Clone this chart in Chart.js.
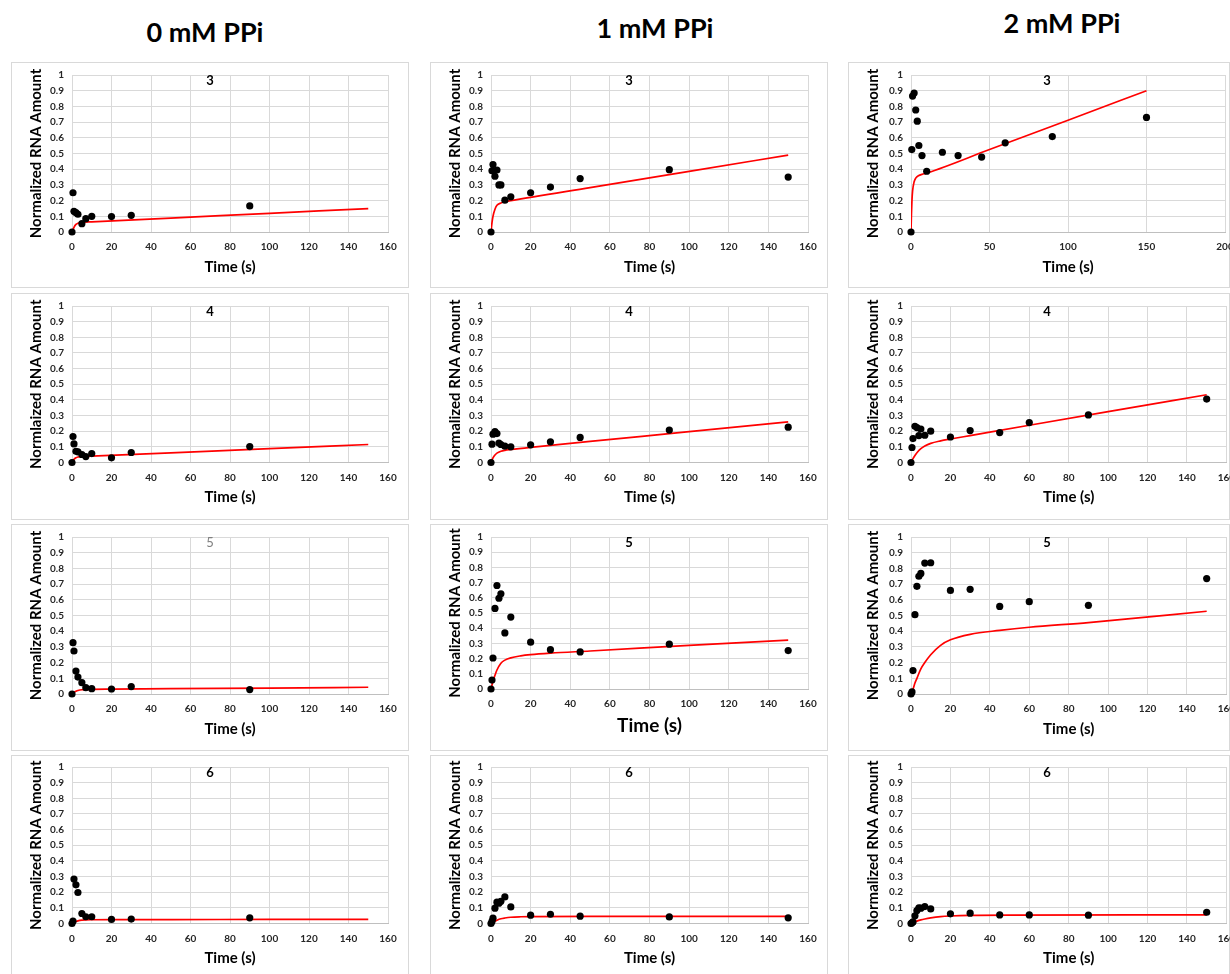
<!DOCTYPE html>
<html>
<head>
<meta charset="utf-8">
<title>Normalized RNA amount vs time</title>
<script src="https://cdn.jsdelivr.net/npm/chart.js@4.4.1/dist/chart.umd.min.js"></script>
<style>
    html, body { margin: 0; padding: 0; }
    body { width: 1230px; height: 974px; overflow: hidden; position: relative; background: #fff; font-family: Lato, "Open Sans", sans-serif; }
    .head { position: absolute; transform: translate(-50%, -50%); font-weight: bold; font-size: 27px; color: #000; white-space: nowrap; }
    canvas { position: absolute; }
</style>
</head>
<body>
<div class="head" style="left:205px; top:31px">0 mM PPi</div>
<div class="head" style="left:655px; top:27px">1 mM PPi</div>
<div class="head" style="left:1062px; top:22px">2 mM PPi</div>
<script>
// time points (s)
const time0 = [0, 0.5, 1, 2, 3, 5, 7, 10, 20, 30, 90]
const time1 = [0, 0.5, 1, 2, 3, 4, 5, 7, 10, 20, 30, 45, 90, 150]
const time2 = [0, 0.5, 1, 2, 3, 4, 5, 7, 10, 20, 30, 45, 60, 90, 150]

// 0 mM PPi
const rna0_3 = [0, 0.25, 0.132, 0.123, 0.113, 0.053, 0.085, 0.1, 0.098, 0.106, 0.166]
const rna0_4 = [0, 0.166, 0.119, 0.072, 0.068, 0.051, 0.038, 0.057, 0.03, 0.064, 0.102]
const rna0_5 = [0, 0.327, 0.274, 0.146, 0.108, 0.072, 0.04, 0.034, 0.032, 0.047, 0.028]
const rna0_6 = [0, 0.015, 0.284, 0.247, 0.198, 0.064, 0.043, 0.043, 0.026, 0.028, 0.036]

// 1 mM PPi
const rna1_3 = [0, 0.39, 0.43, 0.355, 0.395, 0.3, 0.3, 0.203, 0.224, 0.25, 0.286, 0.34, 0.397, 0.35]
const rna1_4 = [0, 0.117, 0.181, 0.198, 0.185, 0.124, 0.115, 0.104, 0.1, 0.113, 0.132, 0.16, 0.207, 0.226]
const rna1_5 = [0, 0.059, 0.204, 0.53, 0.681, 0.597, 0.626, 0.369, 0.473, 0.308, 0.259, 0.244, 0.295, 0.253]
const rna1_6 = [0, 0.013, 0.034, 0.098, 0.136, 0.13, 0.142, 0.17, 0.106, 0.053, 0.059, 0.047, 0.042, 0.036]

// 2 mM PPi
const rna2_3 = [0, 0.525, 0.866, 0.885, 0.777, 0.706, 0.551, 0.487, 0.387, 0.508, 0.487, 0.477, 0.568, 0.608, 0.73]
const rna2_4 = [0, 0.096, 0.153, 0.231, 0.223, 0.172, 0.214, 0.174, 0.2, 0.163, 0.204, 0.191, 0.255, 0.304, 0.405]
const rna2_5 = [0, 0.013, 0.149, 0.505, 0.686, 0.75, 0.768, 0.834, 0.836, 0.66, 0.667, 0.558, 0.588, 0.565, 0.735]
const rna2_6 = [0, 0.004, 0.01, 0.049, 0.083, 0.1, 0.098, 0.108, 0.093, 0.062, 0.066, 0.055, 0.055, 0.053, 0.072]

// fitted curves (red)
const fitT0_3 = [0, 1, 2, 3, 5, 10, 50, 100, 150]
const fitY0_3 = [0, 0.03, 0.048, 0.056, 0.062, 0.065, 0.089, 0.119, 0.149]
const fitT0_4 = [0, 1, 2, 3, 5, 10, 50, 100, 150]
const fitY0_4 = [0, 0.02, 0.03, 0.035, 0.038, 0.041, 0.062, 0.089, 0.115]
const fitT0_5 = [0, 1, 2, 3, 5, 10, 20, 50, 100, 150]
const fitY0_5 = [0, 0.01, 0.017, 0.022, 0.027, 0.03, 0.031, 0.034, 0.038, 0.043]
const fitT0_6 = [0, 1, 2, 3, 5, 10, 20, 50, 100, 150]
const fitY0_6 = [0, 0.008, 0.013, 0.017, 0.021, 0.024, 0.025, 0.025, 0.026, 0.026]

const fitT1_3 = [0, 0.5, 1, 2, 3, 5, 7, 10, 50, 100, 150]
const fitY1_3 = [0, 0.06, 0.1, 0.145, 0.17, 0.185, 0.193, 0.2, 0.283, 0.386, 0.49]
const fitT1_4 = [0, 1, 2, 3, 5, 7, 10, 20, 50, 100, 150]
const fitY1_4 = [0, 0.03, 0.048, 0.06, 0.072, 0.078, 0.083, 0.097, 0.135, 0.197, 0.26]
const fitT1_5 = [0, 1, 2, 3, 5, 7, 10, 15, 20, 30, 50, 100, 150]
const fitY1_5 = [0, 0.05, 0.09, 0.125, 0.17, 0.19, 0.205, 0.218, 0.226, 0.236, 0.25, 0.287, 0.322]
const fitT1_6 = [0, 1, 2, 3, 5, 7, 10, 15, 20, 50, 150]
const fitY1_6 = [0, 0.008, 0.015, 0.021, 0.03, 0.035, 0.04, 0.043, 0.044, 0.045, 0.045]

const fitT2_3 = [0, 0.3, 0.6, 1, 2, 3, 5, 7, 10, 50, 100, 150]
const fitY2_3 = [0, 0.12, 0.2, 0.26, 0.32, 0.343, 0.36, 0.367, 0.375, 0.525, 0.712, 0.9]
const fitT2_4 = [0, 1, 2, 3, 5, 7, 10, 15, 20, 30, 60, 100, 150]
const fitY2_4 = [0, 0.025, 0.045, 0.062, 0.088, 0.105, 0.122, 0.138, 0.15, 0.172, 0.238, 0.325, 0.433]
const fitT2_5 = [0, 1, 2, 3, 5, 7, 10, 15, 20, 30, 45, 60, 90, 150]
const fitY2_5 = [0, 0.03, 0.07, 0.1, 0.16, 0.2, 0.25, 0.31, 0.345, 0.38, 0.405, 0.425, 0.455, 0.527]
const fitT2_6 = [0, 1, 2, 3, 5, 7, 10, 15, 20, 30, 50, 150]
const fitY2_6 = [0, 0.005, 0.01, 0.015, 0.023, 0.029, 0.036, 0.044, 0.048, 0.052, 0.054, 0.055]

// layout of the grid of panels
const cols = [
    { left: 11, width: 398, yw: 61, pw: 316 },
    { left: 430, width: 398, yw: 61, pw: 317 },
    { left: 848, width: 382, yw: 63, pw: 316 }
]
const rows = [
    { top: 62, height: 226, pt: 13, ph: 157 },
    { top: 293, height: 227, pt: 13, ph: 156.5 },
    { top: 524, height: 227, pt: 13, ph: 157 },
    { top: 755, height: 227, pt: 12, ph: 156.5 }
]

const panels = [
    { row: 0, col: 0, label: '3', t: time0, y: rna0_3, ft: fitT0_3, fy: fitY0_3 },
    { row: 0, col: 1, label: '3', t: time1, y: rna1_3, ft: fitT1_3, fy: fitY1_3 },
    { row: 0, col: 2, label: '3', t: time2, y: rna2_3, ft: fitT2_3, fy: fitY2_3, xMax: 200, xStep: 50, pw: 314 },
    { row: 1, col: 0, label: '4', t: time0, y: rna0_4, ft: fitT0_4, fy: fitY0_4, yTitle: 'Normlaized RNA Amount' },
    { row: 1, col: 1, label: '4', t: time1, y: rna1_4, ft: fitT1_4, fy: fitY1_4 },
    { row: 1, col: 2, label: '4', t: time2, y: rna2_4, ft: fitT2_4, fy: fitY2_4 },
    { row: 2, col: 0, label: '5', t: time0, y: rna0_5, ft: fitT0_5, fy: fitY0_5, labelColor: '#7f7f7f', labelWeight: 'normal' },
    { row: 2, col: 1, label: '5', t: time1, y: rna1_5, ft: fitT1_5, fy: fitY1_5, ph: 152, titleSize: 19, titleGap: 37 },
    { row: 2, col: 2, label: '5', t: time2, y: rna2_5, ft: fitT2_5, fy: fitY2_5 },
    { row: 3, col: 0, label: '6', t: time0, y: rna0_6, ft: fitT0_6, fy: fitY0_6 },
    { row: 3, col: 1, label: '6', t: time1, y: rna1_6, ft: fitT1_6, fy: fitY1_6 },
    { row: 3, col: 2, label: '6', t: time2, y: rna2_6, ft: fitT2_6, fy: fitY2_6 }
]

const fontFamily = 'Lato, "Open Sans", sans-serif'
const gridColor = '#d9d9d9'
const tickColor = '#262626'

// white background and light frame round each chart
const frame = {
    id: 'frame',
    beforeDraw(chart) {
        const c = chart.ctx
        c.save()
        c.fillStyle = '#fff'
        c.fillRect(0, 0, chart.width, chart.height)
        c.strokeStyle = '#d9d9d9'
        c.lineWidth = 1
        c.strokeRect(0.5, 0.5, chart.width - 1, chart.height - 1)
        c.restore()
    }
}

// small number on top of each plot
const panelLabel = {
    id: 'panelLabel',
    afterDraw(chart, args, opts) {
        const c = chart.ctx
        c.save()
        c.font = opts.weight + ' 13px ' + fontFamily
        c.fillStyle = opts.color
        c.textAlign = 'center'
        c.textBaseline = 'middle'
        c.fillText(opts.text, 199, chart.chartArea.top + 6)
        c.restore()
    }
}

function drawPanel(p) {
    let col = cols[p.col]
    let row = rows[p.row]
    let pw = p.pw || col.pw
    let ph = p.ph || row.ph
    let xh = row.height - row.pt - ph
    let titleSize = p.titleSize || 15
    let titleGap = p.titleGap || 35

    let canvas = document.createElement('canvas')
    canvas.width = col.width
    canvas.height = row.height
    canvas.style.left = col.left + 'px'
    canvas.style.top = row.top + 'px'
    document.body.appendChild(canvas)

    let points = p.t.map((t, i) => ({ x: t, y: p.y[i] }))
    let fit = p.ft.map((t, i) => ({ x: t, y: p.fy[i] }))

    var ctx = canvas.getContext('2d')
    var chart = new Chart(ctx, {
        type: 'scatter',
        data: {
            datasets: [{
                data: points,
                backgroundColor: '#000',
                borderColor: '#000',
                borderWidth: 0,
                pointRadius: 3.6,
                pointHoverRadius: 3.6,
                clip: false
            }, {
                type: 'line',
                data: fit,
                borderColor: '#ff0000',
                borderWidth: 1.7,
                pointRadius: 0,
                fill: false,
                cubicInterpolationMode: 'monotone'
            }]
        },
        options: {
            responsive: false,
            animation: false,
            events: [],
            layout: {
                padding: { top: row.pt, right: col.width - col.yw - pw, left: 0, bottom: 0 }
            },
            plugins: {
                legend: { display: false },
                tooltip: { enabled: false },
                panelLabel: {
                    text: p.label,
                    color: p.labelColor || '#000',
                    weight: p.labelWeight || 'bold'
                }
            },
            scales: {
                x: {
                    type: 'linear',
                    min: 0,
                    max: p.xMax || 160,
                    ticks: {
                        stepSize: p.xStep || 20,
                        font: { family: fontFamily, size: 10, weight: 'bold' },
                        color: tickColor,
                        padding: 9,
                        maxRotation: 0
                    },
                    grid: { color: gridColor, drawTicks: false },
                    border: { color: '#bfbfbf' },
                    title: {
                        display: true,
                        text: 'Time (s)',
                        color: '#000',
                        font: { family: fontFamily, size: titleSize, weight: 'bold' },
                        padding: { top: 0, bottom: xh - titleGap - titleSize * 0.6 }
                    },
                    afterFit: function(s) {
                        s.height = xh
                        s.paddingLeft = 0
                        s.paddingRight = 0
                    }
                },
                y: {
                    min: 0,
                    max: 1,
                    ticks: {
                        stepSize: 0.1,
                        font: { family: fontFamily, size: 10, weight: 'bold' },
                        color: tickColor,
                        padding: 8,
                        callback: function(value) {
                            return String(+value.toFixed(1))
                        }
                    },
                    grid: { color: gridColor, drawTicks: false },
                    border: { color: gridColor },
                    title: {
                        display: true,
                        text: p.yTitle || 'Normalized RNA Amount',
                        color: '#000',
                        font: { family: fontFamily, size: 15, weight: 'bold' },
                        padding: { top: 16.5, bottom: 0 }
                    },
                    afterFit: function(s) {
                        s.width = col.yw
                        s.paddingTop = 0
                        s.paddingBottom = 0
                    }
                }
            }
        },
        plugins: [frame, panelLabel]
    })
}

panels.forEach(drawPanel)
</script>
</body>
</html>
